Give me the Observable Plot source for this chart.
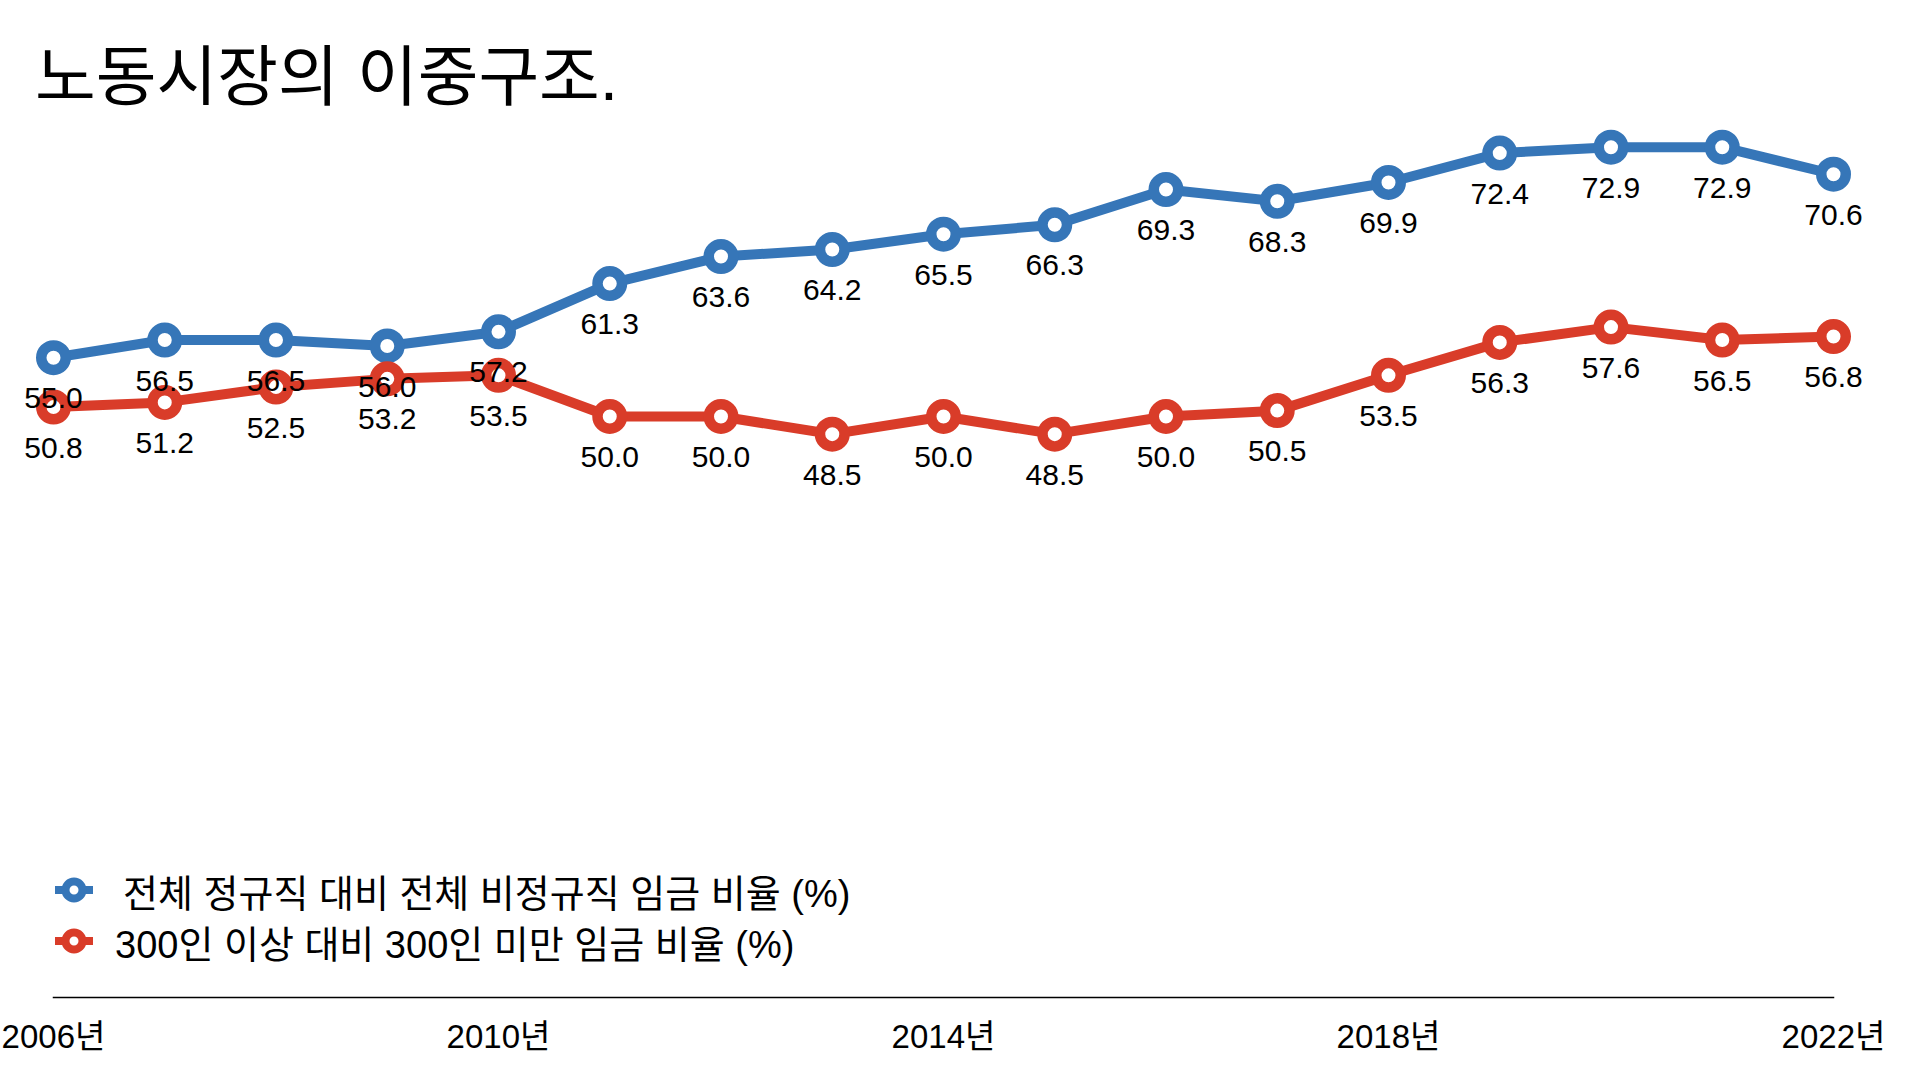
<!DOCTYPE html>
<html>
<head>
<meta charset="utf-8">
<script src="https://cdn.jsdelivr.net/npm/d3@7"></script>
<script src="https://cdn.jsdelivr.net/npm/@observablehq/plot@0.6"></script>
<style>
  html, body { margin: 0; padding: 0; background: #fff; }
  body { width: 1920px; height: 1080px; position: relative; overflow: hidden;
         font-family: "Liberation Sans", "Noto Sans CJK KR", sans-serif; color: #000; }
  #title { height: 120px; position: relative; }
  #title h1 { position: absolute; left: 35px; top: 44px; margin: 0; font-weight: 400;
              font-size: 66px; line-height: 1; white-space: nowrap; }
  #legend { position: absolute; left: 0; top: 0; }
  .row { position: absolute; left: 55px; height: 52px; display: flex; align-items: center;
         font-size: 38px; white-space: nowrap; }
  .row svg { flex: none; }
</style>
</head>
<body>
<div id="title"><h1>노동시장의 이중구조.</h1></div>
<div id="chart"></div>
<div id="legend"></div>
<script>
const years = [2006, 2007, 2008, 2009, 2010, 2011, 2012, 2013, 2014, 2015, 2016, 2017, 2018, 2019, 2020, 2021, 2022];
const seriesNames = ["전체 정규직 대비 전체 비정규직 임금 비율 (%)", "300인 이상 대비 300인 미만 임금 비율 (%)"];
const regularRatio = [55.0, 56.5, 56.5, 56.0, 57.2, 61.3, 63.6, 64.2, 65.5, 66.3, 69.3, 68.3, 69.9, 72.4, 72.9, 72.9, 70.6];
const firmSizeRatio = [50.8, 51.2, 52.5, 53.2, 53.5, 50.0, 50.0, 48.5, 50.0, 48.5, 50.0, 50.5, 53.5, 56.3, 57.6, 56.5, 56.8];
const tickYears = [2006, 2010, 2014, 2018, 2022];
const colors = ["#3676b8", "#d93c29"];

const data = [];
[regularRatio, firmSizeRatio].forEach((vals, i) => {
  vals.forEach((v, j) => data.push({series: seriesNames[i], year: years[j], value: v}));
});

const fontFamily = '"Liberation Sans", "Noto Sans CJK KR", sans-serif';

const chart = Plot.plot({
  width: 1920,
  height: 960,
  marginLeft: 53,
  marginRight: 87,
  marginTop: 2,
  marginBottom: 83,
  insetBottom: -7,
  style: {fontFamily, background: "transparent", overflow: "visible"},
  x: {domain: [years[0], years[years.length - 1]], label: null},
  y: {domain: [0, 75], axis: null},
  color: {domain: seriesNames, range: colors},
  marks: [
    Plot.frame({anchor: "bottom", stroke: "#000", strokeWidth: 1.5}),
    Plot.axisX({ticks: tickYears, tickFormat: d => d + "년", tickSize: 0, tickPadding: 27,
                fontSize: 33, label: null, fill: "#000"}),
    Plot.line(data, {x: "year", y: "value", z: "series", stroke: "series", strokeWidth: 10,
                     strokeLinejoin: "round", strokeLinecap: "round"}),
    Plot.dot(data, {x: "year", y: "value", stroke: "series", fill: "white", r: 12.25, strokeWidth: 10.5}),
    Plot.text(data, {x: "year", y: "value", text: d => d.value.toFixed(1), dy: 41,
                     fontSize: 30, fill: "#000"})
  ]
});
document.getElementById("chart").appendChild(chart);

// Legend (overlaid inside the plot area)
const legend = document.getElementById("legend");
const rowTops = [864, 915];
const textGaps = [30, 22];
seriesNames.forEach((name, i) => {
  const row = document.createElement("div");
  row.className = "row";
  row.style.top = rowTops[i] + "px";
  row.innerHTML =
    `<svg width="38" height="30" viewBox="0 0 38 30">
       <line x1="0" y1="15" x2="38" y2="15" stroke="${colors[i]}" stroke-width="8"/>
       <circle cx="19" cy="15" r="8.5" fill="white" stroke="${colors[i]}" stroke-width="8"/>
     </svg><span style="margin-left:${textGaps[i]}px">${name}</span>`;
  legend.appendChild(row);
});
</script>
</body>
</html>
